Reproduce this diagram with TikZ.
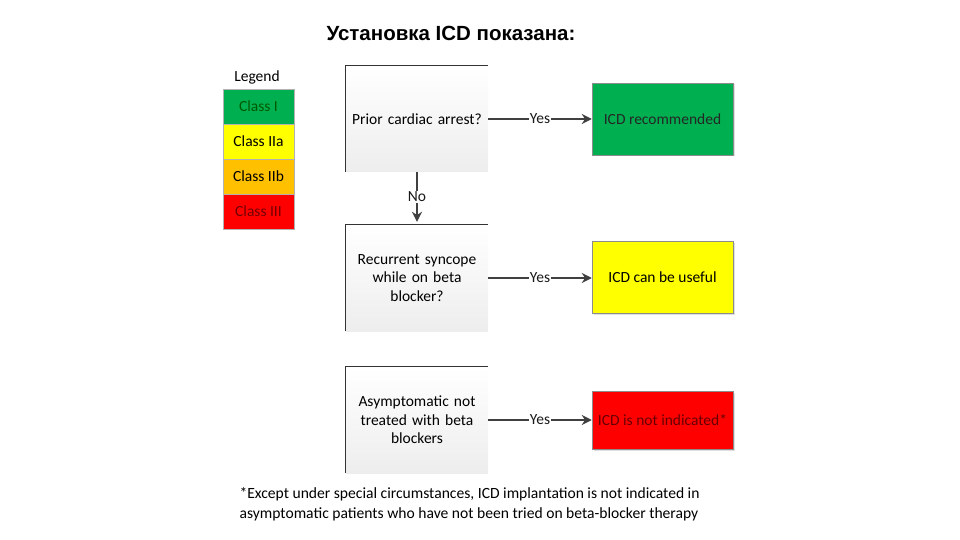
\documentclass[tikz,border=0pt]{standalone}
\usepackage{fontspec}
\setmainfont{Carlito}
\newfontfamily\titlefont{Liberation Sans}
\usepackage{tikz}
\usetikzlibrary{arrows.meta,calc,shadows,positioning}
\definecolor{classone}{RGB}{0,176,80}
\definecolor{classtwoa}{RGB}{255,255,0}
\definecolor{classtwob}{RGB}{255,192,0}
\definecolor{classthree}{RGB}{255,0,0}
\definecolor{wiregray}{RGB}{64,64,64}
\tikzset{
  flow/.style={-{Stealth[length=10pt,width=10pt]},wiregray,line width=1.8pt},
  question/.style={top color=white,bottom color=black!7,minimum width=142pt,
                   minimum height=106pt,text width=130pt,align=center,inner sep=0pt,
                   font=\fontsize{15.5}{18.5}\selectfont},
  outcome/.style={draw=black!45,line width=0.5pt,minimum width=141pt,minimum height=72pt,
                  align=center,font=\fontsize{15.5}{18.5}\selectfont,
                  drop shadow={shadow xshift=1.5pt,shadow yshift=-1.5pt,opacity=0.25}},
  legendbox/.style={draw=black!30,line width=0.4pt,minimum width=71pt,minimum height=35pt,
                    inner sep=0pt,font=\fontsize{15.5}{18.5}\selectfont},
  lab/.style={fill=white,text=black!90,inner sep=1pt,font=\fontsize{15.5}{18.5}\selectfont},
}
\begin{document}
\begin{tikzpicture}[x=1pt,y=-1pt]
  \path[use as bounding box] (0,0) rectangle (960,540);
  \node[font=\titlefont\bfseries\fontsize{20.5}{24}\selectfont] (title) at (451,33)
    {Установка ICD показана:};

  % legend
  \node[font=\fontsize{15.5}{18.5}\selectfont] (legend) at (257,77) {Legend};
  \node[legendbox,fill=classone,text=green!35!black] (cone) at (258.5,106.5) {Class I};
  \node[legendbox,fill=classtwoa] (ctwoa) at (258.5,141.5) {Class IIa};
  \node[legendbox,fill=classtwob] (ctwob) at (258.5,176.5) {Class IIb};
  \node[legendbox,fill=classthree,text=red!45!black] (cthree) at (258.5,211.5) {Class III};

  % decision column
  \node[question] (arrest) at (417,119) {Prior cardiac arrest?};
  \node[question] (syncope) at (417,278) {Recurrent syncope\\ while on beta\\ blocker?};
  \node[question] (asympt) at (417,420) {Asymptomatic not\\ treated with beta\\ blockers};
  \foreach \q in {arrest,syncope,asympt}
    \draw[black!80,line width=1.2pt] (\q.south west) -- (\q.north west) -- (\q.north east);

  % outcomes
  \node[outcome,fill=classone,text=black!85] (recom) at (662.5,119) {ICD recommended};
  \node[outcome,fill=classtwoa] (useful) at (662.5,277) {ICD can be useful};
  \node[outcome,fill=classthree,minimum height=58pt,text=red!40!black] (notind) at (662.5,420)
    {ICD is not indicated*};

  % connectors
  \draw[flow] (arrest.east) -- node[lab] {Yes} (recom.west);
  \draw[flow] (syncope.east) -- node[lab] {Yes} (syncope.east -| useful.west);
  \draw[flow] (asympt.east) -- node[lab] {Yes} (notind.west);
  \draw[flow] (arrest.south) -- node[lab] {No} ($(syncope.north)+(0,-3)$);

  \node[anchor=west,align=left,font=\fontsize{15.6}{20}\selectfont] (footnote) at (236,504)
    {*Except under special circumstances, ICD implantation is not indicated in\\
     asymptomatic patients who have not been tried on beta-blocker therapy};
\end{tikzpicture}
\end{document}
